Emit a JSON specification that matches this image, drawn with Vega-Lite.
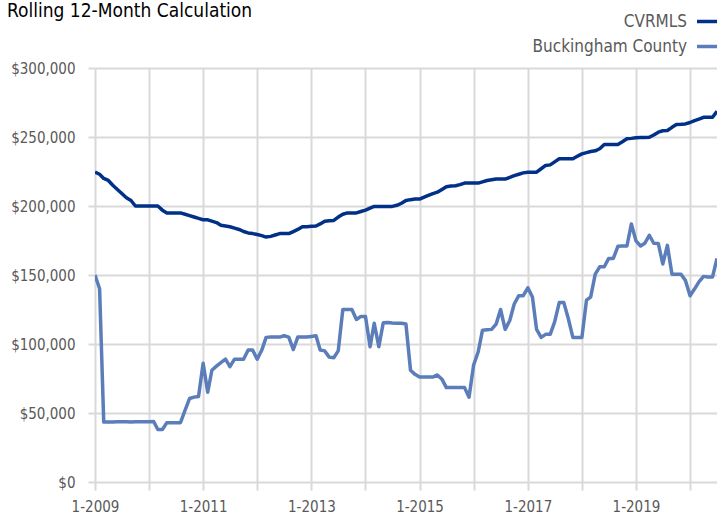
{
  "$schema": "https://vega.github.io/schema/vega-lite/v6.json",
  "autosize": "none",
  "width": 622,
  "height": 414,
  "padding": {"left": 95, "top": 68, "right": 0, "bottom": 35},
  "background": "white",
  "config": {
    "font": "'DejaVu Sans Condensed', sans-serif",
    "view": {"stroke": null}
  },
  "title": {
    "text": "Rolling 12-Month Calculation",
    "anchor": "start",
    "frame": "group",
    "dx": -88,
    "offset": -14,
    "fontSize": 19,
    "fontWeight": "normal",
    "color": "#000000",
    "font": "'DejaVu Sans Condensed', sans-serif"
  },
  "data": {
    "values": [
      {"date":"2009-01-01","CVRMLS":224500,"Buckingham County":150000},
      {"date":"2009-02-01","CVRMLS":223000,"Buckingham County":140000},
      {"date":"2009-03-01","CVRMLS":220000,"Buckingham County":43400},
      {"date":"2009-04-01","CVRMLS":218500,"Buckingham County":43500},
      {"date":"2009-05-01","CVRMLS":215000,"Buckingham County":43500},
      {"date":"2009-06-01","CVRMLS":212000,"Buckingham County":43600},
      {"date":"2009-07-01","CVRMLS":209000,"Buckingham County":43600},
      {"date":"2009-08-01","CVRMLS":206000,"Buckingham County":43700},
      {"date":"2009-09-01","CVRMLS":204000,"Buckingham County":43500},
      {"date":"2009-10-01","CVRMLS":200000,"Buckingham County":43600},
      {"date":"2009-11-01","CVRMLS":200000,"Buckingham County":43600},
      {"date":"2009-12-01","CVRMLS":200000,"Buckingham County":43700},
      {"date":"2010-01-01","CVRMLS":200000,"Buckingham County":43700},
      {"date":"2010-02-01","CVRMLS":200000,"Buckingham County":43800},
      {"date":"2010-03-01","CVRMLS":200000,"Buckingham County":38000},
      {"date":"2010-04-01","CVRMLS":197000,"Buckingham County":38000},
      {"date":"2010-05-01","CVRMLS":195000,"Buckingham County":43000},
      {"date":"2010-06-01","CVRMLS":195000,"Buckingham County":43000},
      {"date":"2010-07-01","CVRMLS":195000,"Buckingham County":43000},
      {"date":"2010-08-01","CVRMLS":195000,"Buckingham County":43000},
      {"date":"2010-09-01","CVRMLS":194000,"Buckingham County":52000},
      {"date":"2010-10-01","CVRMLS":193000,"Buckingham County":60500},
      {"date":"2010-11-01","CVRMLS":192000,"Buckingham County":61500},
      {"date":"2010-12-01","CVRMLS":191000,"Buckingham County":62000},
      {"date":"2011-01-01","CVRMLS":190000,"Buckingham County":86000},
      {"date":"2011-02-01","CVRMLS":190000,"Buckingham County":65000},
      {"date":"2011-03-01","CVRMLS":189000,"Buckingham County":81000},
      {"date":"2011-04-01","CVRMLS":188000,"Buckingham County":84000},
      {"date":"2011-05-01","CVRMLS":186000,"Buckingham County":86500},
      {"date":"2011-06-01","CVRMLS":185500,"Buckingham County":89000},
      {"date":"2011-07-01","CVRMLS":185000,"Buckingham County":83600},
      {"date":"2011-08-01","CVRMLS":184000,"Buckingham County":89000},
      {"date":"2011-09-01","CVRMLS":183000,"Buckingham County":89000},
      {"date":"2011-10-01","CVRMLS":181500,"Buckingham County":89000},
      {"date":"2011-11-01","CVRMLS":180500,"Buckingham County":95600},
      {"date":"2011-12-01","CVRMLS":180000,"Buckingham County":95600},
      {"date":"2012-01-01","CVRMLS":179300,"Buckingham County":89000},
      {"date":"2012-02-01","CVRMLS":178500,"Buckingham County":95600},
      {"date":"2012-03-01","CVRMLS":177500,"Buckingham County":104800},
      {"date":"2012-04-01","CVRMLS":178000,"Buckingham County":105000},
      {"date":"2012-05-01","CVRMLS":179000,"Buckingham County":105000},
      {"date":"2012-06-01","CVRMLS":180000,"Buckingham County":105000},
      {"date":"2012-07-01","CVRMLS":180000,"Buckingham County":106000},
      {"date":"2012-08-01","CVRMLS":180000,"Buckingham County":105000},
      {"date":"2012-09-01","CVRMLS":181500,"Buckingham County":96000},
      {"date":"2012-10-01","CVRMLS":183000,"Buckingham County":105000},
      {"date":"2012-11-01","CVRMLS":185000,"Buckingham County":105000},
      {"date":"2012-12-01","CVRMLS":185000,"Buckingham County":105000},
      {"date":"2013-01-01","CVRMLS":185300,"Buckingham County":105500},
      {"date":"2013-02-01","CVRMLS":185500,"Buckingham County":106000},
      {"date":"2013-03-01","CVRMLS":187000,"Buckingham County":95600},
      {"date":"2013-04-01","CVRMLS":189000,"Buckingham County":95000},
      {"date":"2013-05-01","CVRMLS":189300,"Buckingham County":90500},
      {"date":"2013-06-01","CVRMLS":189500,"Buckingham County":90000},
      {"date":"2013-07-01","CVRMLS":192000,"Buckingham County":95000},
      {"date":"2013-08-01","CVRMLS":194000,"Buckingham County":125000},
      {"date":"2013-09-01","CVRMLS":195000,"Buckingham County":125000},
      {"date":"2013-10-01","CVRMLS":195000,"Buckingham County":125000},
      {"date":"2013-11-01","CVRMLS":195000,"Buckingham County":117800},
      {"date":"2013-12-01","CVRMLS":196000,"Buckingham County":120000},
      {"date":"2014-01-01","CVRMLS":197000,"Buckingham County":120000},
      {"date":"2014-02-01","CVRMLS":198500,"Buckingham County":98000},
      {"date":"2014-03-01","CVRMLS":199700,"Buckingham County":115000},
      {"date":"2014-04-01","CVRMLS":199700,"Buckingham County":98000},
      {"date":"2014-05-01","CVRMLS":199700,"Buckingham County":115400},
      {"date":"2014-06-01","CVRMLS":199700,"Buckingham County":115500},
      {"date":"2014-07-01","CVRMLS":199700,"Buckingham County":115200},
      {"date":"2014-08-01","CVRMLS":200500,"Buckingham County":115000},
      {"date":"2014-09-01","CVRMLS":202000,"Buckingham County":115000},
      {"date":"2014-10-01","CVRMLS":204000,"Buckingham County":114500},
      {"date":"2014-11-01","CVRMLS":204600,"Buckingham County":81000},
      {"date":"2014-12-01","CVRMLS":205000,"Buckingham County":78000},
      {"date":"2015-01-01","CVRMLS":205000,"Buckingham County":76000},
      {"date":"2015-02-01","CVRMLS":206500,"Buckingham County":76000},
      {"date":"2015-03-01","CVRMLS":207700,"Buckingham County":76000},
      {"date":"2015-04-01","CVRMLS":209000,"Buckingham County":76000},
      {"date":"2015-05-01","CVRMLS":210000,"Buckingham County":77600},
      {"date":"2015-06-01","CVRMLS":212000,"Buckingham County":74500},
      {"date":"2015-07-01","CVRMLS":214000,"Buckingham County":68400},
      {"date":"2015-08-01","CVRMLS":214500,"Buckingham County":68400},
      {"date":"2015-09-01","CVRMLS":214700,"Buckingham County":68400},
      {"date":"2015-10-01","CVRMLS":215500,"Buckingham County":68400},
      {"date":"2015-11-01","CVRMLS":216600,"Buckingham County":68400},
      {"date":"2015-12-01","CVRMLS":216600,"Buckingham County":61400},
      {"date":"2016-01-01","CVRMLS":216600,"Buckingham County":84800},
      {"date":"2016-02-01","CVRMLS":216600,"Buckingham County":94400},
      {"date":"2016-03-01","CVRMLS":217500,"Buckingham County":110000},
      {"date":"2016-04-01","CVRMLS":218500,"Buckingham County":110300},
      {"date":"2016-05-01","CVRMLS":219000,"Buckingham County":110600},
      {"date":"2016-06-01","CVRMLS":219500,"Buckingham County":114400},
      {"date":"2016-07-01","CVRMLS":219500,"Buckingham County":125000},
      {"date":"2016-08-01","CVRMLS":219500,"Buckingham County":110600},
      {"date":"2016-09-01","CVRMLS":220700,"Buckingham County":117000},
      {"date":"2016-10-01","CVRMLS":222000,"Buckingham County":129000},
      {"date":"2016-11-01","CVRMLS":223000,"Buckingham County":135000},
      {"date":"2016-12-01","CVRMLS":224000,"Buckingham County":135000},
      {"date":"2017-01-01","CVRMLS":224500,"Buckingham County":140700},
      {"date":"2017-02-01","CVRMLS":224500,"Buckingham County":134000},
      {"date":"2017-03-01","CVRMLS":224500,"Buckingham County":110600},
      {"date":"2017-04-01","CVRMLS":227000,"Buckingham County":104800},
      {"date":"2017-05-01","CVRMLS":229400,"Buckingham County":107000},
      {"date":"2017-06-01","CVRMLS":229800,"Buckingham County":107000},
      {"date":"2017-07-01","CVRMLS":232000,"Buckingham County":116000},
      {"date":"2017-08-01","CVRMLS":234200,"Buckingham County":130000},
      {"date":"2017-09-01","CVRMLS":234200,"Buckingham County":130000},
      {"date":"2017-10-01","CVRMLS":234200,"Buckingham County":118500},
      {"date":"2017-11-01","CVRMLS":234200,"Buckingham County":104800},
      {"date":"2017-12-01","CVRMLS":236000,"Buckingham County":104800},
      {"date":"2018-01-01","CVRMLS":237800,"Buckingham County":104800},
      {"date":"2018-02-01","CVRMLS":238700,"Buckingham County":131800},
      {"date":"2018-03-01","CVRMLS":239500,"Buckingham County":134000},
      {"date":"2018-04-01","CVRMLS":240000,"Buckingham County":150600},
      {"date":"2018-05-01","CVRMLS":241500,"Buckingham County":155900},
      {"date":"2018-06-01","CVRMLS":244600,"Buckingham County":156000},
      {"date":"2018-07-01","CVRMLS":244600,"Buckingham County":162000},
      {"date":"2018-08-01","CVRMLS":244600,"Buckingham County":162000},
      {"date":"2018-09-01","CVRMLS":244600,"Buckingham County":170800},
      {"date":"2018-10-01","CVRMLS":246500,"Buckingham County":171000},
      {"date":"2018-11-01","CVRMLS":248700,"Buckingham County":171000},
      {"date":"2018-12-01","CVRMLS":249000,"Buckingham County":187000},
      {"date":"2019-01-01","CVRMLS":249400,"Buckingham County":174700},
      {"date":"2019-02-01","CVRMLS":249600,"Buckingham County":171000},
      {"date":"2019-03-01","CVRMLS":249700,"Buckingham County":173000},
      {"date":"2019-04-01","CVRMLS":249800,"Buckingham County":178800},
      {"date":"2019-05-01","CVRMLS":251500,"Buckingham County":173000},
      {"date":"2019-06-01","CVRMLS":253500,"Buckingham County":172800},
      {"date":"2019-07-01","CVRMLS":254500,"Buckingham County":158000},
      {"date":"2019-08-01","CVRMLS":254700,"Buckingham County":171500},
      {"date":"2019-09-01","CVRMLS":257000,"Buckingham County":150600},
      {"date":"2019-10-01","CVRMLS":259000,"Buckingham County":150600},
      {"date":"2019-11-01","CVRMLS":259200,"Buckingham County":150600},
      {"date":"2019-12-01","CVRMLS":259500,"Buckingham County":146000},
      {"date":"2020-01-01","CVRMLS":260500,"Buckingham County":135000},
      {"date":"2020-02-01","CVRMLS":261900,"Buckingham County":140000},
      {"date":"2020-03-01","CVRMLS":263000,"Buckingham County":145000},
      {"date":"2020-04-01","CVRMLS":264300,"Buckingham County":149000},
      {"date":"2020-05-01","CVRMLS":264300,"Buckingham County":148600},
      {"date":"2020-06-01","CVRMLS":264300,"Buckingham County":148600},
      {"date":"2020-07-01","CVRMLS":268600,"Buckingham County":162000}
    ]
  },
  "transform": [
    {"fold": ["CVRMLS", "Buckingham County"], "as": ["series", "value"]}
  ],
  "mark": {"type": "line", "strokeWidth": 3.5, "clip": true, "strokeJoin": "round"},
  "encoding": {
    "x": {
      "field": "date",
      "type": "temporal",
      "scale": {
        "type": "utc",
        "domain": [
          {"year": 2009, "month": 1, "date": 1, "utc": true},
          {"year": 2020, "month": 7, "date": 1, "utc": true}
        ]
      },
      "axis": {
        "title": null,
        "values": [
          {"year": 2009, "month": 1, "date": 1, "utc": true},
          {"year": 2010, "month": 1, "date": 1, "utc": true},
          {"year": 2011, "month": 1, "date": 1, "utc": true},
          {"year": 2012, "month": 1, "date": 1, "utc": true},
          {"year": 2013, "month": 1, "date": 1, "utc": true},
          {"year": 2014, "month": 1, "date": 1, "utc": true},
          {"year": 2015, "month": 1, "date": 1, "utc": true},
          {"year": 2016, "month": 1, "date": 1, "utc": true},
          {"year": 2017, "month": 1, "date": 1, "utc": true},
          {"year": 2018, "month": 1, "date": 1, "utc": true},
          {"year": 2019, "month": 1, "date": 1, "utc": true},
          {"year": 2020, "month": 1, "date": 1, "utc": true}
        ],
        "labelExpr": "utcyear(datum.value) % 2 == 1 ? '1-' + utcyear(datum.value) : ''",
        "grid": true,
        "gridColor": "#d9d9d9",
        "gridWidth": 2,
        "domain": false,
        "ticks": true,
        "tickColor": "#d9d9d9",
        "tickWidth": 2,
        "tickSize": 8,
        "labelFontSize": 15,
        "labelColor": "#595959",
        "labelPadding": 9,
        "labelOverlap": false,
        "labelFlush": false
      }
    },
    "y": {
      "field": "value",
      "type": "quantitative",
      "scale": {"domain": [0, 300000], "nice": false},
      "axis": {
        "title": null,
        "values": [0, 50000, 100000, 150000, 200000, 250000, 300000],
        "format": "$,.0f",
        "grid": true,
        "gridColor": "#d9d9d9",
        "gridWidth": 2,
        "domain": false,
        "ticks": true,
        "tickColor": "#d9d9d9",
        "tickWidth": 2,
        "tickSize": 7,
        "labelFontSize": 15,
        "labelColor": "#595959",
        "labelPadding": 13
      }
    },
    "color": {
      "field": "series",
      "type": "nominal",
      "scale": {"domain": ["CVRMLS", "Buckingham County"], "range": ["#003087", "#5B7DB9"]},
      "legend": {
        "title": null,
        "orient": "none",
        "legendX": 600,
        "legendY": -61,
        "padding": 0,
        "symbolType": "stroke",
        "symbolSize": 625,
        "symbolStrokeWidth": 3.5,
        "labelAlign": "right",
        "labelOffset": -37,
        "labelFontSize": 17,
        "labelColor": "#595959",
        "rowPadding": 2,
        "labelLimit": 300
      }
    }
  }
}
